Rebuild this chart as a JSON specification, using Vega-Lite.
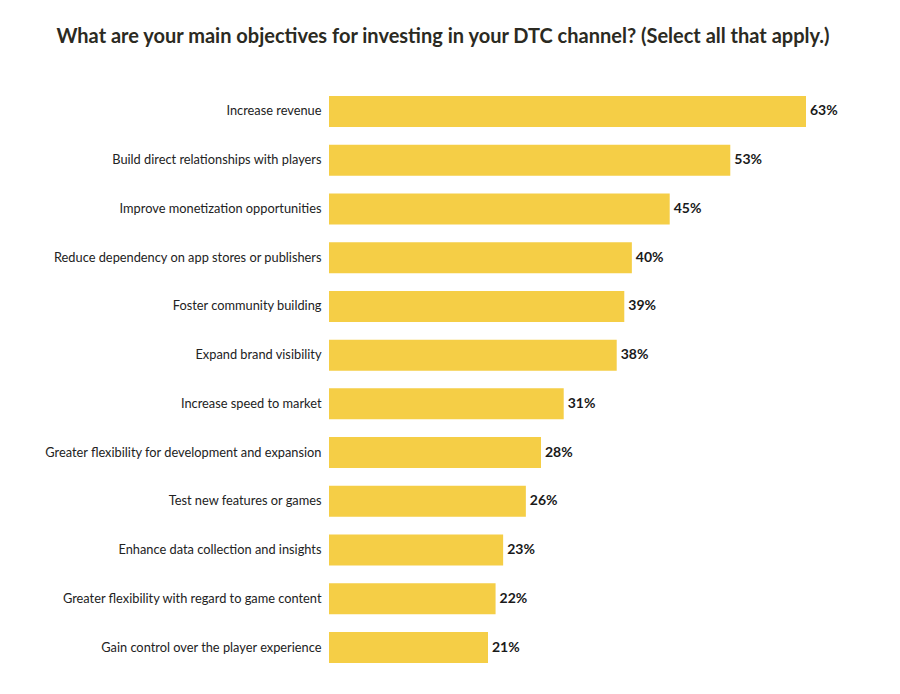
{
  "$schema": "https://vega.github.io/schema/vega-lite/v6.json",
  "width": 530,
  "height": 594,
  "autosize": "none",
  "padding": {"left": 329, "top": 88, "right": 41, "bottom": 12},
  "background": "white",
  "title": {
    "text": "What are your main objectives for investing in your DTC channel? (Select all that apply.)",
    "anchor": "middle",
    "frame": "group",
    "dx": -151,
    "offset": 41,
    "fontSize": 20,
    "font": "Lato",
    "fontWeight": "bold",
    "color": "#2b2a22"
  },
  "data": {
    "values": [
      {"objective": "Increase revenue", "pct": 0.63},
      {"objective": "Build direct relationships with players", "pct": 0.53},
      {"objective": "Improve monetization opportunities", "pct": 0.45},
      {"objective": "Reduce dependency on app stores or publishers", "pct": 0.40},
      {"objective": "Foster community building", "pct": 0.39},
      {"objective": "Expand brand visibility", "pct": 0.38},
      {"objective": "Increase speed to market", "pct": 0.31},
      {"objective": "Greater flexibility for development and expansion", "pct": 0.28},
      {"objective": "Test new features or games", "pct": 0.26},
      {"objective": "Enhance data collection and insights", "pct": 0.23},
      {"objective": "Greater flexibility with regard to game content", "pct": 0.22},
      {"objective": "Gain control over the player experience", "pct": 0.21}
    ]
  },
  "encoding": {
    "y": {
      "field": "objective",
      "type": "nominal",
      "sort": null,
      "title": null,
      "scale": {"range": [8, 575], "paddingInner": 0.364, "paddingOuter": 0},
      "axis": {
        "domain": false,
        "ticks": false,
        "labelPadding": 8,
        "labelLimit": 400,
        "labelFont": "Lato",
        "labelFontSize": 12.8,
        "labelColor": "#222222"
      }
    }
  },
  "layer": [
    {
      "mark": {"type": "bar", "color": "#f5ce46"},
      "encoding": {
        "x": {"field": "pct", "type": "quantitative", "scale": {"domain": [0, 0.7]}, "axis": null}
      }
    },
    {
      "mark": {"type": "text", "align": "left", "dx": 4, "font": "Lato", "fontSize": 14, "fontWeight": "bold", "color": "#1a1a1a"},
      "encoding": {
        "x": {"field": "pct", "type": "quantitative"},
        "text": {"field": "pct", "type": "quantitative", "format": ".0%"}
      }
    },
    {
      "mark": {"type": "rule", "color": "#333333", "strokeWidth": 1},
      "encoding": {
        "x": {"datum": 0}
      }
    }
  ],
  "config": {"view": {"stroke": null}}
}
